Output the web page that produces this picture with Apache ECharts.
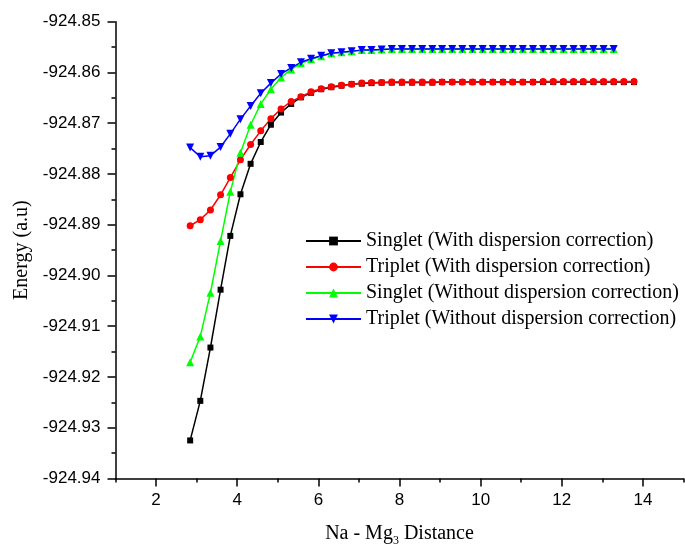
<!DOCTYPE html>
<html>
<head>
<meta charset="utf-8">
<script src="https://cdn.jsdelivr.net/npm/echarts@6/dist/echarts.min.js"></script>
<style>html,body{margin:0;padding:0;background:#fff}#c{width:685px;height:547px}</style>
</head>
<body>
<div id="c"></div>
<script>
const distance = [2.84, 3.09, 3.34, 3.59, 3.83, 4.08, 4.33, 4.58, 4.83, 5.08, 5.33, 5.57, 5.82, 6.07, 6.32, 6.57, 6.82, 7.07, 7.31, 7.56, 7.81, 8.06, 8.31, 8.56, 8.81, 9.05, 9.30, 9.55, 9.80, 10.05, 10.30, 10.55, 10.79, 11.04, 11.29, 11.54, 11.79, 12.04, 12.29, 12.53, 12.78, 13.03, 13.28, 13.53, 13.78];

const singletWith = [-924.9325, -924.9247, -924.9142, -924.9028, -924.8922, -924.8840, -924.8780, -924.8737, -924.8703, -924.8679, -924.8662, -924.8649, -924.8640, -924.8633, -924.8629, -924.8626, -924.8623, -924.8622, -924.8621, -924.8620, -924.8620, -924.8620, -924.8620, -924.8620, -924.8620, -924.8619, -924.8619, -924.8619, -924.8619, -924.8619, -924.8619, -924.8619, -924.8619, -924.8619, -924.8619, -924.8619, -924.8619, -924.8619, -924.8619, -924.8619, -924.8619, -924.8619, -924.8619, -924.8619, -924.8619];

const tripletWith = [-924.8902, -924.8890, -924.8871, -924.8841, -924.8807, -924.8772, -924.8742, -924.8715, -924.8691, -924.8672, -924.8657, -924.8648, -924.8638, -924.8632, -924.8628, -924.8625, -924.8623, -924.8621, -924.8620, -924.8620, -924.8619, -924.8619, -924.8619, -924.8619, -924.8619, -924.8619, -924.8619, -924.8619, -924.8619, -924.8619, -924.8619, -924.8619, -924.8619, -924.8619, -924.8619, -924.8618, -924.8618, -924.8618, -924.8618, -924.8618, -924.8618, -924.8618, -924.8618, -924.8618, -924.8618];

const singletWithout = [-924.9171, -924.9120, -924.9034, -924.8932, -924.8835, -924.8758, -924.8703, -924.8662, -924.8633, -924.8610, -924.8594, -924.8582, -924.8574, -924.8568, -924.8562, -924.8560, -924.8558, -924.8556, -924.8556, -924.8555, -924.8554, -924.8554, -924.8554, -924.8554, -924.8554, -924.8554, -924.8554, -924.8554, -924.8554, -924.8554, -924.8554, -924.8554, -924.8554, -924.8554, -924.8554, -924.8554, -924.8554, -924.8554, -924.8554, -924.8554, -924.8554, -924.8554, -924.8554];

const tripletWithout = [-924.8748, -924.8766, -924.8764, -924.8747, -924.8721, -924.8692, -924.8666, -924.8641, -924.8621, -924.8603, -924.8591, -924.8580, -924.8573, -924.8567, -924.8562, -924.8560, -924.8558, -924.8556, -924.8556, -924.8555, -924.8554, -924.8554, -924.8554, -924.8554, -924.8554, -924.8554, -924.8554, -924.8554, -924.8554, -924.8554, -924.8554, -924.8554, -924.8554, -924.8554, -924.8554, -924.8554, -924.8554, -924.8554, -924.8554, -924.8554, -924.8554, -924.8554, -924.8554];

const seriesNames = [
  'Singlet (With dispersion correction)',
  'Triplet (With dispersion correction)',
  'Singlet (Without dispersion correction)',
  'Triplet (Without dispersion correction)'
];

const xMajorTicks = [2, 4, 6, 8, 10, 12, 14];
const xMinorTicks = [1, 3, 5, 7, 9, 11, 13, 15];
const yTicks = [-924.94, -924.93, -924.92, -924.91, -924.90, -924.89, -924.88, -924.87, -924.86, -924.85];

function pairs(ys) { return ys.map((y, i) => [distance[i], y]); }

const chart = echarts.init(document.getElementById('c'), null, {renderer: 'canvas'});
const serif = 'Liberation Serif, Times New Roman, serif';
const sans = 'Liberation Sans, Arial, sans-serif';

function mkSeries(name, ys, color, symbol, size, rotate) {
  return {
    name: name, type: 'line', data: pairs(ys),
    symbol: symbol, symbolSize: size, symbolRotate: rotate || 0,
    lineStyle: {color: color, width: 1.5},
    itemStyle: {color: color},
    animation: false
  };
}

chart.setOption({
  backgroundColor: '#fff',
  animation: false,
  grid: {left: 115.5, right: 1.5, top: 21.7, bottom: 68.5, containLabel: false, outerBoundsMode: 'none'},
  legend: {
    orient: 'vertical', left: 300, top: 226,
    itemWidth: 55, itemHeight: 11, itemGap: 6,
    textStyle: {fontFamily: serif, fontSize: 20, color: '#000'},
    data: seriesNames
  },
  xAxis: [{
    type: 'value', min: 1, max: 15, position: 'bottom',
    name: '{a|Na - Mg}{s|3}{a| Distance}', nameLocation: 'middle', nameGap: 43,
    nameTextStyle: {
      rich: {
        a: {fontFamily: serif, fontSize: 20, color: '#000', verticalAlign: 'middle'},
        s: {fontFamily: serif, fontSize: 12, color: '#000', padding: [13, 0, 0, 0]}
      }
    },
    axisLine: {show: true, onZero: false, lineStyle: {color: '#000', width: 1.5}},
    axisTick: {show: true, inside: false, length: 8, customValues: xMajorTicks, lineStyle: {color: '#000', width: 1.5}},
    axisLabel: {customValues: xMajorTicks, margin: 13, fontFamily: sans, fontSize: 17, color: '#000'},
    splitLine: {show: false}
  }, {
    type: 'value', min: 1, max: 15, position: 'bottom',
    axisLine: {show: false},
    axisTick: {show: true, inside: false, length: 4, customValues: xMinorTicks, lineStyle: {color: '#000', width: 1.5}},
    axisLabel: {show: false},
    splitLine: {show: false}
  }],
  yAxis: {
    type: 'value', min: -924.94, max: -924.85,
    name: 'Energy (a.u)', nameLocation: 'middle', nameRotate: 90, nameGap: 80,
    nameTextStyle: {fontFamily: serif, fontSize: 20, color: '#000'},
    axisLine: {show: true, onZero: false, lineStyle: {color: '#000', width: 1.5}},
    axisTick: {show: true, inside: false, length: 8, customValues: yTicks, lineStyle: {color: '#000', width: 1.5}},
    minorTick: {show: true, splitNumber: 2, length: 4, lineStyle: {color: '#000', width: 1.5}},
    interval: 0.01,
    axisLabel: {customValues: yTicks, margin: 15, fontFamily: sans, fontSize: 17, color: '#000',
      formatter: v => v.toFixed(2)},
    splitLine: {show: false},
    minorSplitLine: {show: false}
  },
  series: [
    mkSeries(seriesNames[0], singletWith, '#000000', 'rect', 6),
    mkSeries(seriesNames[1], tripletWith, '#ff0000', 'circle', 7),
    mkSeries(seriesNames[2], singletWithout, '#00ff00', 'triangle', 8),
    mkSeries(seriesNames[3], tripletWithout, '#0000ff', 'triangle', 8, 180)
  ]
});
</script>
</body>
</html>
